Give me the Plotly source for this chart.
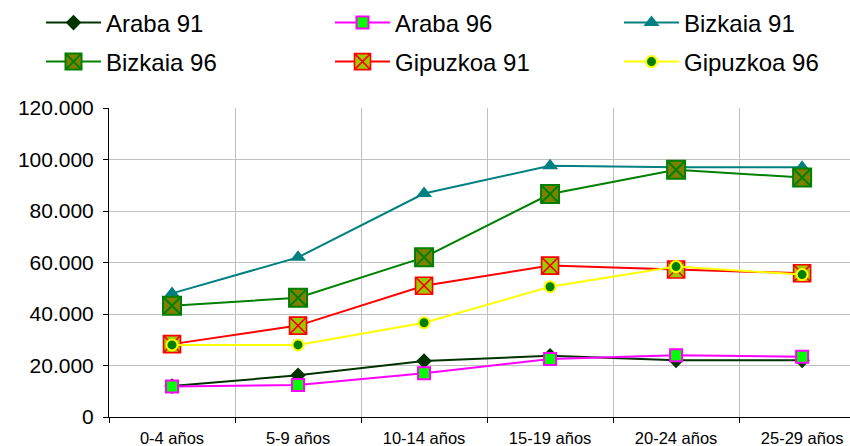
import plotly.graph_objects as go

categories = ["0-4 años", "5-9 años", "10-14 años", "15-19 años", "20-24 años", "25-29 años"]

araba_91 = [12000, 16200, 21700, 23800, 22000, 22000]
araba_96 = [11800, 12400, 17000, 22500, 24000, 23400]
bizkaia_91 = [48000, 62000, 86800, 97600, 97000, 97000]
bizkaia_96 = [43200, 46300, 62000, 86600, 96000, 93000]
gipuzkoa_91 = [28300, 35500, 51000, 58800, 57300, 55800]
gipuzkoa_96 = [28000, 28000, 36600, 50600, 58400, 55300]

y_ticks = [0, 20000, 40000, 60000, 80000, 100000, 120000]

FONT = "Liberation Sans, Arial, sans-serif"

series = [
    ("Araba 91", araba_91, "#003300", dict(symbol="diamond", size=12, color="#003300")),
    ("Araba 96", araba_96, "#ff00ff", dict(symbol="square", size=12, color="#00ff00",
                                          line=dict(color="#ff00ff", width=2))),
    ("Bizkaia 91", bizkaia_91, "#008080", dict(symbol="triangle-up", size=14, color="#008080")),
    ("Bizkaia 96", bizkaia_96, "#008000", dict(symbol="square-x", size=18, color="#808000",
                                              line=dict(color="#008000", width=2))),
    ("Gipuzkoa 91", gipuzkoa_91, "#ff0000", dict(symbol="square-x", size=17, color="#99cc00",
                                                line=dict(color="#ff0000", width=1.6))),
    ("Gipuzkoa 96", gipuzkoa_96, "#ffff00", dict(symbol="circle", size=11, color="#008000",
                                                line=dict(color="#ffff00", width=2))),
]

legend_names = ["legend", "legend2", "legend3", "legend4", "legend5", "legend6"]
# legend slot positions in pixels (left of entry, row centre)
col_px = [41, 330, 619]
row_px = [23, 62]

fig = go.Figure()
for i, (name, vals, col, marker) in enumerate(series):
    fig.add_trace(go.Scatter(
        x=categories, y=vals, name=name, mode="lines+markers",
        line=dict(color=col, width=2), marker=marker, legend=legend_names[i],
    ))

legend_common = dict(
    orientation="h", xref="container", yref="container",
    xanchor="left", yanchor="middle",
    font=dict(family=FONT, size=24, color="#000000"),
    bgcolor="rgba(0,0,0,0)", itemwidth=55,
)

legends = {}
for i, ln in enumerate(legend_names):
    legends[ln] = dict(legend_common,
                       x=col_px[i % 3] / 850,
                       y=1 - row_px[i // 3] / 446)

fig.update_layout(
    width=850, height=446,
    margin=dict(l=109, r=0, t=108, b=29, autoexpand=False),
    paper_bgcolor="white", plot_bgcolor="white",
    separators=",.",
    font=dict(family=FONT, color="#000000"),
    showlegend=True,
    xaxis=dict(
        type="category", range=[-0.5, 5.38], automargin=False,
        tickson="boundaries", ticks="outside", ticklen=5, tickcolor="#000000",
        showline=True, linecolor="#000000", linewidth=1,
        showgrid=True, gridcolor="#c0c0c0", gridwidth=1,
        tickfont=dict(family=FONT, size=16.5, color="#000000"),
        ticklabelstandoff=6,
    ),
    yaxis=dict(
        range=[0, 120000], tickvals=y_ticks, tickformat=",d", automargin=False,
        ticks="outside", ticklen=5, tickcolor="#000000",
        showline=True, linecolor="#000000", linewidth=1,
        showgrid=True, gridcolor="#c0c0c0", gridwidth=1, zeroline=False,
        tickfont=dict(family=FONT, size=21, color="#000000"),
        ticklabelstandoff=5,
    ),
    **legends,
)

fig.write_html("out.html", config={"displayModeBar": False},
               post_script="document.body.style.margin='0';")
